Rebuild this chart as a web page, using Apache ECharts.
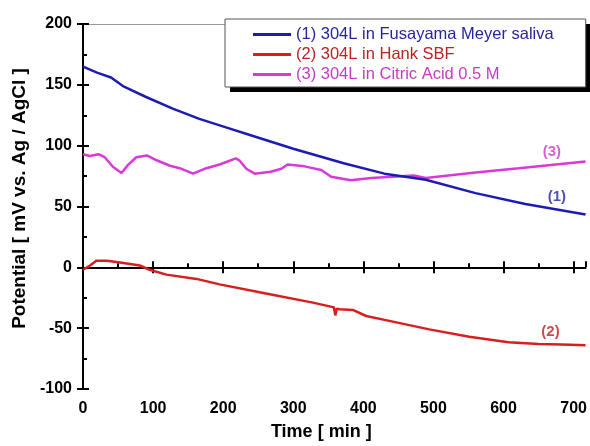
<!DOCTYPE html>
<html>
<head>
<meta charset="utf-8">
<script src="https://cdn.jsdelivr.net/npm/echarts@6/dist/echarts.min.js"></script>
<style>
  html, body { margin: 0; padding: 0; background: #fff; }
  #chart { width: 590px; height: 446px; }
</style>
</head>
<body>
<div id="chart"></div>
<script>
// series names / colours
var seriesNames = ["(1) 304L in Fusayama Meyer saliva", "(2) 304L in Hank SBF", "(3) 304L in Citric Acid 0.5 M"];
var lineColors = ["#1c1cb4", "#d81e1e", "#d83ad8"];
var textColors = ["#26269c", "#bb2222", "#c43cc4"];

// (1) Fusayama Meyer saliva
var timeSaliva = [0, 20, 40, 57, 90, 128, 166, 204, 237, 300, 372, 430, 472, 489, 560, 631, 717];
var potSaliva = [165, 160, 156, 149, 140, 130.5, 122, 115, 109, 97.5, 85.5, 77, 73.5, 72, 61, 52, 43.5];

// (2) Hank SBF
var timeHank = [0, 10, 19, 34, 53, 81, 95, 119, 162, 195, 261, 328, 355, 358, 360, 362, 366, 385, 404, 437, 494, 551, 607, 650, 683, 717];
var potHank = [-2, 1.5, 5.5, 5.5, 4, 1.5, -2, -6, -9.5, -14, -21.5, -29, -32.5, -33, -39.5, -34, -34.5, -35, -40, -44, -51, -57, -61.5, -63, -63.5, -64];

// (3) Citric acid 0.5 M
var timeCitric = [0, 10, 22, 31, 43, 55, 64, 76, 91, 105, 124, 138, 157, 176, 195, 218, 223, 233, 245, 268, 283, 292, 316, 340, 354, 382, 411, 472, 489, 560, 622, 664, 717];
var potCitric = [93, 91.5, 93, 90.5, 82.5, 77.5, 84, 90.5, 92, 88, 83.5, 81.5, 77, 81.5, 84.5, 89.5, 88, 81, 77, 78.5, 81, 84.5, 83, 80, 74.5, 71.5, 73.5, 75.5, 73.5, 78, 81.5, 84, 87];

// curve tags
var noteText = ["(1)", "(2)", "(3)"];
var noteX = [676, 667, 669];
var noteY = [58, -53, 95];

var xMin = 0, xMax = 717, xStep = 100;
var yMin = -100, yMax = 200, yStep = 50;

function pairs(xs, ys) {
  return xs.map(function (x, i) { return [x, ys[i]]; });
}

var font = "Liberation Sans, Arial, sans-serif";
var chart = echarts.init(document.getElementById("chart"));

var baseX = { type: "value", min: xMin, max: xMax, interval: xStep, splitLine: { show: false } };
var baseY = { type: "value", min: yMin, max: yMax, interval: yStep, splitLine: { show: false } };

var lineSeries = [
  [timeSaliva, potSaliva],
  [timeHank, potHank],
  [timeCitric, potCitric]
].map(function (d, i) {
  return {
    name: seriesNames[i],
    type: "line",
    data: pairs(d[0], d[1]),
    symbol: "none",
    lineStyle: { color: lineColors[i], width: 2.5 },
    itemStyle: { color: lineColors[i] },
    z: 3 - i
  };
});

// shared legend layout; one copy draws the black shadow, one the frame + items
var legendBase = {
  orient: "vertical",
  left: 225,
  top: 19,
  padding: [7, 32, 4, 28],
  icon: "rect",
  itemWidth: 38,
  itemHeight: 3,
  itemGap: 3,
  selectedMode: false
};

var option = {
  animation: false,
  backgroundColor: "#fff",
  grid: { left: 83, top: 24, right: 1, bottom: 53 },
  legend: [
    Object.assign({}, legendBase, {
      z: 4,
      backgroundColor: "#fff",
      borderWidth: 0,
      shadowColor: "#000",
      shadowBlur: 0,
      shadowOffsetX: 5,
      shadowOffsetY: 5,
      itemStyle: { opacity: 0 },
      lineStyle: { opacity: 0 },
      textStyle: { fontFamily: font, fontSize: 16.5, color: "rgba(0,0,0,0)" },
      data: seriesNames.slice()
    }),
    Object.assign({}, legendBase, {
      z: 5,
      backgroundColor: "transparent",
      borderColor: "#555",
      borderWidth: 1,
      textStyle: { fontFamily: font, fontSize: 16.5 },
      data: seriesNames.map(function (n, i) {
        return { name: n, textStyle: { color: textColors[i] } };
      })
    })
  ],
  xAxis: [
    Object.assign({}, baseX, {
      position: "bottom",
      name: "Time [ min ]",
      nameLocation: "middle",
      nameGap: 34,
      nameTextStyle: { fontFamily: font, fontSize: 18, fontWeight: "bold", color: "#000", padding: [0, 26, 0, 0] },
      axisLine: { lineStyle: { color: "#000", width: 2 } },
      axisTick: { inside: false, length: 6, lineStyle: { color: "#000", width: 2 } },
      axisLabel: { margin: 12, fontFamily: font, fontSize: 16, fontWeight: "bold", color: "#000" }
    }),
    Object.assign({}, baseX, {
      position: "bottom",
      axisLine: { show: false },
      axisTick: { inside: true, length: 6, lineStyle: { color: "#000", width: 2 } },
      minorTick: { show: true, splitNumber: 2, length: 4, lineStyle: { color: "#000", width: 2 } },
      axisLabel: { show: false }
    }),
    Object.assign({}, baseX, {
      position: "top",
      axisLine: { lineStyle: { color: "#999", width: 1 } },
      axisTick: { show: false },
      axisLabel: { show: false }
    })
  ],
  yAxis: [
    Object.assign({}, baseY, {
      position: "left",
      name: "Potential [ mV vs. Ag / AgCl ]",
      nameLocation: "middle",
      nameGap: 52,
      nameTextStyle: { fontFamily: font, fontSize: 19, fontWeight: "bold", color: "#000", padding: [0, 0, 0, 16] },
      axisLine: { lineStyle: { color: "#000", width: 2 } },
      axisTick: { inside: false, length: 6, lineStyle: { color: "#000", width: 2 } },
      axisLabel: { margin: 11, fontFamily: font, fontSize: 16, fontWeight: "bold", color: "#000" }
    }),
    Object.assign({}, baseY, {
      position: "left",
      axisLine: { show: false },
      axisTick: { inside: true, length: 6, lineStyle: { color: "#000", width: 2 } },
      minorTick: { show: true, splitNumber: 2, length: 4, lineStyle: { color: "#000", width: 2 } },
      axisLabel: { show: false }
    })
  ],
  series: lineSeries.concat([{
    name: "tags",
    type: "scatter",
    symbolSize: 0,
    silent: true,
    data: noteText.map(function (t, i) {
      return {
        value: [noteX[i], noteY[i]],
        label: {
          show: true,
          position: "inside",
          formatter: t,
          color: textColors[i],
          fontFamily: font,
          fontSize: 15,
          fontWeight: "bold"
        }
      };
    })
  }])
};

chart.setOption(option);
</script>
</body>
</html>
